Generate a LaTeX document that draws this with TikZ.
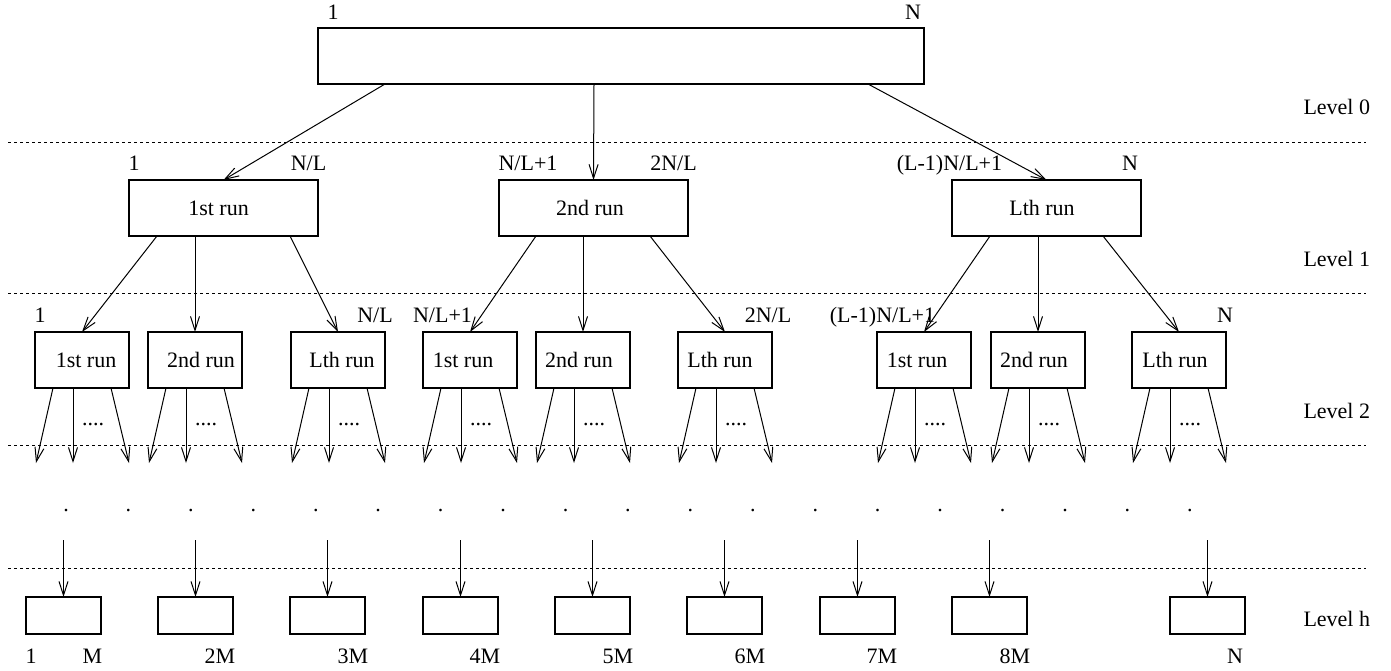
\documentclass[tikz,border=0pt]{standalone}
\usepackage{fontspec}
\setmainfont{Liberation Serif}
\usetikzlibrary{arrows.meta}
\begin{document}
\begin{tikzpicture}[x=0.5pt,y=-0.5pt,
  font=\fontsize{11}{13}\selectfont,
  line width=0.5pt,
  >={Straight Barb[length=7pt,width=4.5pt]},
  bigbox/.style={draw,line width=0.6pt,rectangle,inner sep=0pt,outer sep=0pt,anchor=north west,minimum width=94.5pt,minimum height=28pt},
  runbox/.style={draw,line width=0.6pt,rectangle,inner sep=0pt,outer sep=0pt,anchor=north west,minimum width=47pt,minimum height=28pt},
  leafbox/.style={draw,line width=0.6pt,rectangle,inner sep=0pt,outer sep=0pt,anchor=north west,minimum width=37.5pt,minimum height=18.5pt},
  lab/.style={inner sep=0pt,anchor=base},
  lvl/.style={inner sep=0pt,anchor=base west},
  sep/.style={dash pattern=on 1.5pt off 1.5pt,line width=0.5pt}]
\useasboundingbox (0,0) rectangle (1391,670);

% separators
\draw[sep] (8,142) -- (1366,142);
\draw[sep] (8,293) -- (1366,293);
\draw[sep] (8,445) -- (1366,445);
\draw[sep] (8,568) -- (1366,568);

% level labels
\node[lvl] (lv0) at (1303,114) {Level 0};
\node[lvl] (lv1) at (1303,266) {Level 1};
\node[lvl] (lv2) at (1303,418) {Level 2};
\node[lvl] (lvh) at (1303,626) {Level h};

% top box
\node[draw,line width=0.6pt,rectangle,inner sep=0pt,outer sep=0pt,anchor=north west,minimum width=303pt,minimum height=28pt] (top) at (318,28) {};
\node[lab] (t1) at (333,19.5) {1};
\node[lab] (tN) at (913,19.5) {N};

% level 1 boxes
\node[bigbox] (b1) at (129,180) {1st run\hspace*{5pt}};
\node[bigbox] (b2) at (499,180) {2nd run\hspace*{3.5pt}};
\node[bigbox] (b3) at (952,180) {Lth run\hspace*{4.5pt}};
\node[lab] (b1a) at (134,170) {1};
\node[lab] (b1b) at (308.5,170) {N/L};
\node[lab] (b2a) at (528,170) {N/L+1};
\node[lab] (b2b) at (673.5,170) {2N/L};
\node[lab] (b3a) at (949.5,170) {(L-1)N/L+1};
\node[lab] (b3b) at (1130,170) {N};

\draw[->] ([xshift=33.5pt]top.south west) -- (b1.north);
\draw[->] ([xshift=138pt]top.south west) -- (b2.north);
\draw[->] ([xshift=275pt]top.south west) -- (b3.north);

% level 2 boxes
\foreach \x/\t [count=\i] in {35/\hspace*{4pt}1st run,148/\hspace*{6pt}2nd run,291/\hspace*{4pt}Lth run,423/1st run\hspace*{7pt},536/2nd run\hspace*{4pt},678/Lth run\hspace*{5pt},877/1st run\hspace*{7pt},991/2nd run\hspace*{4pt},1132/Lth run\hspace*{4pt}}{
  \node[runbox] (c\i) at (\x,332) {\t};
  \draw[->] ([xshift=9pt]c\i.south west) -- ++(-8.5pt,-37.5pt);
  \draw[->] ([xshift=19pt]c\i.south west) -- ++(0pt,-37.5pt);
  \draw[->] ([xshift=38pt]c\i.south west) -- ++(9pt,-37.5pt);
  \node[lab] (dd\i) at (\x+58,425.5) {....};
}
\node[lab] (c1a) at (40,322) {1};
\node[lab] (c3b) at (375,322) {N/L};
\node[lab] (c4a) at (442.5,322) {N/L+1};
\node[lab] (c6b) at (768,322) {2N/L};
\node[lab] (c7a) at (882.5,322) {(L-1)N/L+1};
\node[lab] (c9b) at (1225,322) {N};

\draw[->] ([xshift=14pt]b1.south west) -- (c1.north);
\draw[->] (b1.south -| c2.north) -- (c2.north);
\draw[->] ([xshift=80.5pt]b1.south west) -- (c3.north);
\draw[->] ([xshift=18.5pt]b2.south west) -- (c4.north);
\draw[->] (b2.south -| c5.north) -- (c5.north);
\draw[->] ([xshift=75.5pt]b2.south west) -- (c6.north);
\draw[->] ([xshift=19pt]b3.south west) -- (c7.north);
\draw[->] (b3.south -| c8.north) -- (c8.north);
\draw[->] ([xshift=75.5pt]b3.south west) -- (c9.north);

% row of dots
\foreach \i in {0,...,18}{
  \node[lab] (p\i) at ({66+62.44*\i},511) {.};
}

% level h
\foreach \x [count=\i] in {26,158,290,423,555,687,820,952,1170}{
  \node[leafbox] (h\i) at (\x,597) {};
  \coordinate (hs\i) at (\x+37.5,540);
  \draw[->] (hs\i) -- (h\i.north);
}
\foreach \x/\t [count=\i] in {31/1,92.5/M,220/2M,353/3M,485/4M,618/5M,750/6M,882/7M,1015/8M,1235/N}{
  \node[lab] (hl\i) at (\x,663) {\t};
}
\end{tikzpicture}
\end{document}
